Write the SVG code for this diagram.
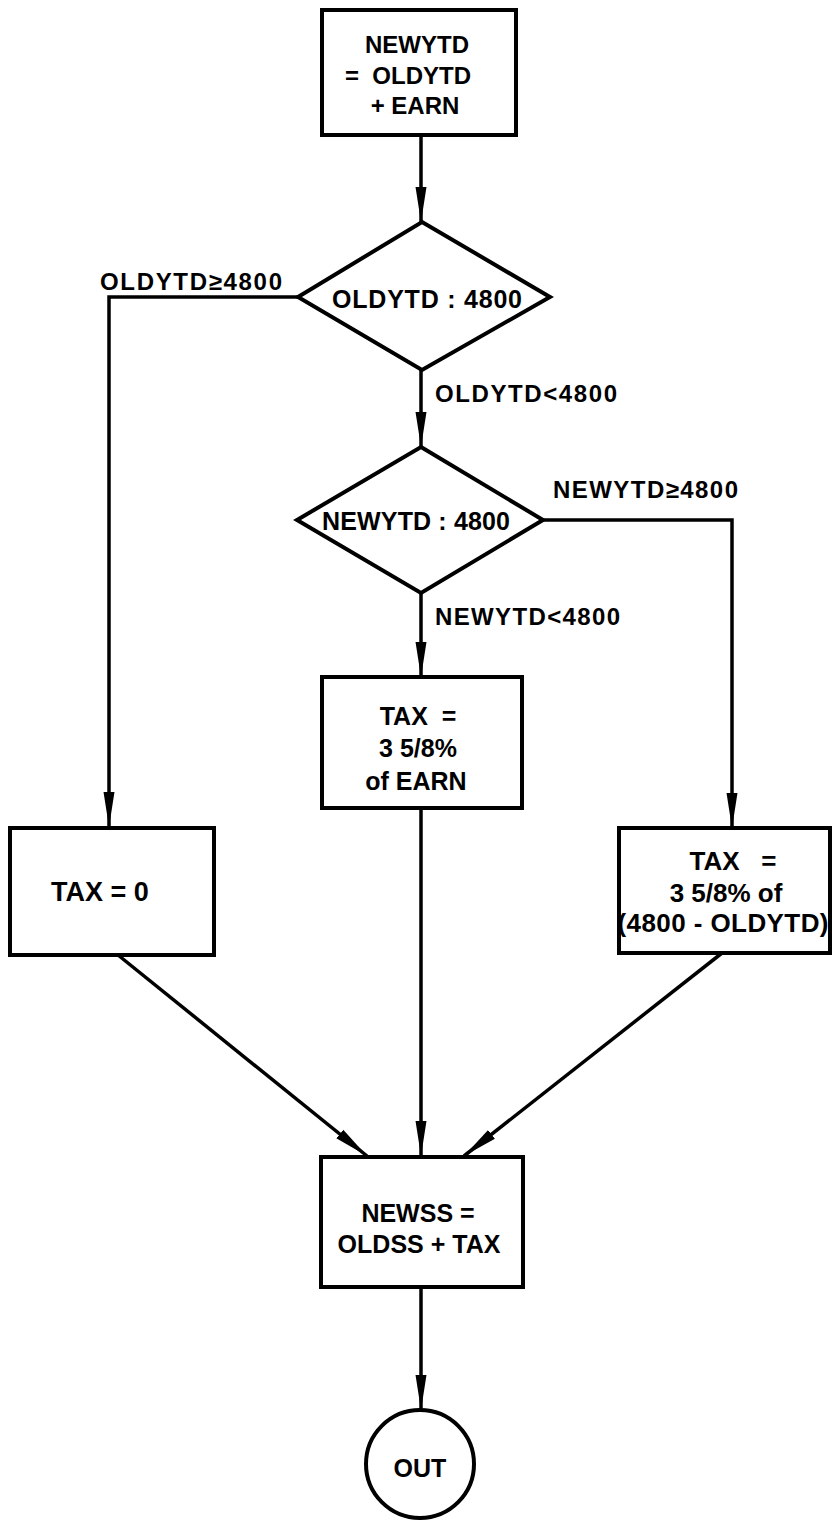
<svg xmlns="http://www.w3.org/2000/svg" width="833" height="1524" viewBox="0 0 833 1524">
<style>
.node{fill:#fff;stroke:#000;stroke-width:4;stroke-linejoin:miter}
.t{font-family:"Liberation Sans",Arial,sans-serif;font-weight:bold;font-size:25px;fill:#000;text-anchor:middle}
.lbl{font-family:"Liberation Sans",Arial,sans-serif;font-weight:bold;font-size:24px;fill:#000}
.c{fill:none;stroke:#000;stroke-width:3.5}
</style>
<defs>
<marker id="ah" markerUnits="userSpaceOnUse" markerWidth="38" markerHeight="14" refX="35" refY="7" orient="auto">
<path d="M0,1.5 L35,7 L0,12.5 Z" fill="#000"/>
</marker>
</defs>
<rect width="833" height="1524" fill="#fff"/>
<g id="connectors">
<path class="c" d="M421,135 L421,222" marker-end="url(#ah)"/>
<path class="c" d="M298,297 L109,297 L109,827" marker-end="url(#ah)"/>
<path class="c" d="M421,370 L421,447" marker-end="url(#ah)"/>
<path class="c" d="M543,520 L732,520 L732,828" marker-end="url(#ah)"/>
<path class="c" d="M421,593 L421,677" marker-end="url(#ah)"/>
<path class="c" d="M421,808 L421,1156" marker-end="url(#ah)"/>
<path class="c" d="M118,955 L367,1156" marker-end="url(#ah)"/>
<path class="c" d="M722,953 L464,1156" marker-end="url(#ah)"/>
<path class="c" d="M421,1287 L421,1410" marker-end="url(#ah)"/>
</g>
<g id="labels">
<text class="lbl" x="100" y="290" textLength="182" lengthAdjust="spacing">OLDYTD≥4800</text>
<text class="lbl" x="435" y="402" textLength="182" lengthAdjust="spacing">OLDYTD&lt;4800</text>
<text class="lbl" x="553" y="498" textLength="185" lengthAdjust="spacing">NEWYTD≥4800</text>
<text class="lbl" x="435" y="625" textLength="185" lengthAdjust="spacing">NEWYTD&lt;4800</text>
</g>
<g id="start">
<rect class="node" x="322" y="10" width="194" height="125"/>
<text class="t" x="417" y="53" style="font-size:24px">NEWYTD</text>
<text class="t" x="408" y="84" style="font-size:24px" xml:space="preserve">=  OLDYTD</text>
<text class="t" x="415" y="114" style="font-size:24px">+ EARN</text>
</g>
<g id="decision1">
<polygon class="node" points="422,222 550,297 422,370 298,297"/>
<text class="t" x="427" y="308" textLength="190" lengthAdjust="spacing">OLDYTD : 4800</text>
</g>
<g id="decision2">
<polygon class="node" points="421,447 543,520 421,593 297,520"/>
<text class="t" x="416" y="530" textLength="188" lengthAdjust="spacing">NEWYTD : 4800</text>
</g>
<g id="tax-earn">
<rect class="node" x="322" y="677" width="200" height="131"/>
<text class="t" x="418" y="725" xml:space="preserve">TAX  =</text>
<text class="t" x="418" y="757">3 5/8%</text>
<text class="t" x="416" y="790">of EARN</text>
</g>
<g id="tax-zero">
<rect class="node" x="10" y="828" width="204" height="127"/>
<text class="t" x="100" y="901" style="font-size:27px">TAX = 0</text>
</g>
<g id="tax-partial">
<rect class="node" x="619" y="828" width="211" height="125"/>
<text class="t" x="733" y="870" style="font-size:26px" xml:space="preserve">TAX   =</text>
<text class="t" x="726" y="902" style="font-size:26px">3 5/8% of</text>
<text class="t" x="723" y="932" style="font-size:26px" textLength="211" lengthAdjust="spacing">(4800 - OLDYTD)</text>
</g>
<g id="newss">
<rect class="node" x="321" y="1157" width="202" height="130"/>
<text class="t" x="418" y="1222">NEWSS =</text>
<text class="t" x="419" y="1253">OLDSS + TAX</text>
</g>
<g id="out">
<circle class="node" cx="420" cy="1464" r="54"/>
<text class="t" x="420" y="1477">OUT</text>
</g>
</svg>
